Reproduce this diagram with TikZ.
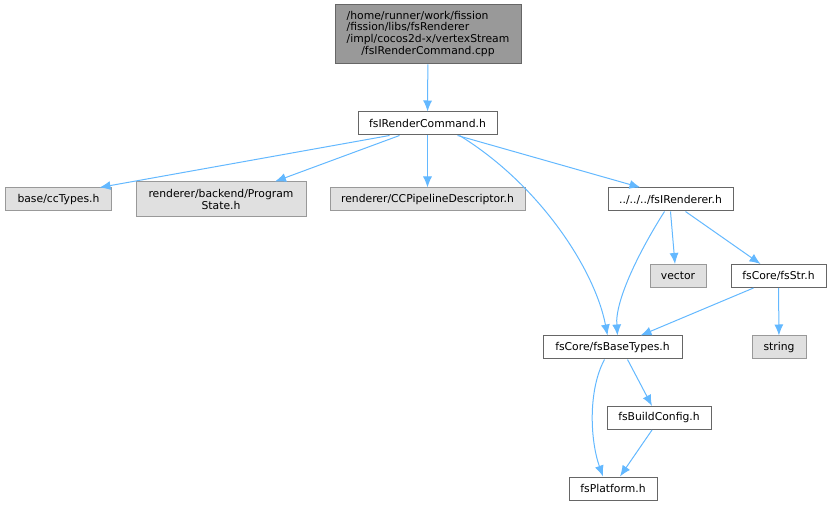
\documentclass[tikz,border=0pt]{standalone}
\usepackage{fontspec}
\setmainfont{DejaVu Sans}
\usetikzlibrary{shapes,arrows,arrows.meta}
\definecolor{edgeblue}{HTML}{63B8FF}
\definecolor{sysgrey}{HTML}{E0E0E0}
\definecolor{rootgrey}{HTML}{999999}
\tikzstyle{file} = [rectangle, draw=black!60, fill=white, line width=1pt,
    minimum height=23pt, inner xsep=4pt, inner ysep=2pt, text centered,
    font=\fontsize{10.8}{11.7}\selectfont]
\tikzstyle{sysfile} = [file, draw=black!40, fill=sysgrey]
\tikzstyle{rootfile} = [file, fill=rootgrey]
\tikzstyle{line} = [draw, edgeblue, line width=1pt, -{Latex[length=11pt,width=9pt]}]

\begin{document}
\begin{tikzpicture}[x=1pt, y=-1pt]
    \useasboundingbox (0,0) rectangle (831,505);
    % Place nodes
    \node [rootfile, minimum width=186pt, minimum height=59pt] (root) at (428,34.5)
        {\begin{tabular}{@{}l@{}}/home/runner/work/fission\\/fission/libs/fsRenderer\\/impl/cocos2d-x/vertexStream\\\multicolumn{1}{@{}c@{}}{/fsIRenderCommand.cpp}\end{tabular}};
    \node [file, minimum width=139pt] (cmd) at (427.5,123.5) {fsIRenderCommand.h};
    \node [sysfile, minimum width=106pt] (cctypes) at (58.5,199.5) {base/ccTypes.h};
    \node [sysfile, minimum width=170pt, minimum height=35pt, align=center] (progstate) at (221,199.5)
        {renderer/backend/Program\\State.h};
    \node [sysfile, minimum width=195pt] (pipeline) at (427.5,199.5) {renderer/CCPipelineDescriptor.h};
    \node [file, minimum width=125pt] (renderer) at (670.5,199.5) {../../../fsIRenderer.h};
    \node [sysfile, minimum width=56pt] (vector) at (678,276) {vector};
    \node [file, minimum width=95pt] (fsstr) at (778.5,276) {fsCore/fsStr.h};
    \node [file, minimum width=139pt] (basetypes) at (612.5,347.5) {fsCore/fsBaseTypes.h};
    \node [sysfile, minimum width=54pt] (string) at (779,347.5) {string};
    \node [file, minimum width=104pt] (buildconfig) at (659,418) {fsBuildConfig.h};
    \node [file, minimum width=88pt] (platform) at (613,488.5) {fsPlatform.h};
    % Draw edges
    \path [line] (root) -- (cmd);
    \path [line] ([xshift=-38pt]cmd.south) -- ([xshift=41pt]cctypes.north);
    \path [line] ([xshift=-28pt]cmd.south) -- ([xshift=54pt]progstate.north);
    \path [line] (cmd) -- (pipeline);
    \path [line] ([xshift=30pt]cmd.south) -- ([xshift=-30pt]renderer.north);
    \path [line] ([xshift=32pt]cmd.south) .. controls (540,185) and (595,270) .. ([xshift=-5pt]basetypes.north);
    \path [line] ([xshift=-6pt]renderer.south) .. controls (640,250) and (615,300) .. ([xshift=5pt]basetypes.north);
    \path [line] (renderer.south) -- ([xshift=-3pt]vector.north);
    \path [line] ([xshift=15pt]renderer.south) -- ([xshift=-18pt]fsstr.north);
    \path [line] ([xshift=-25pt]fsstr.south) -- ([xshift=28pt]basetypes.north);
    \path [line] (fsstr) -- (string);
    \path [line] ([xshift=15pt]basetypes.south) -- ([xshift=-7pt]buildconfig.north);
    \path [line] ([xshift=-8pt]basetypes.south) .. controls (588,390) and (590,440) .. ([xshift=-10pt]platform.north);
    \path [line] ([xshift=-7pt]buildconfig.south) -- ([xshift=7pt]platform.north);
\end{tikzpicture}
\end{document}
